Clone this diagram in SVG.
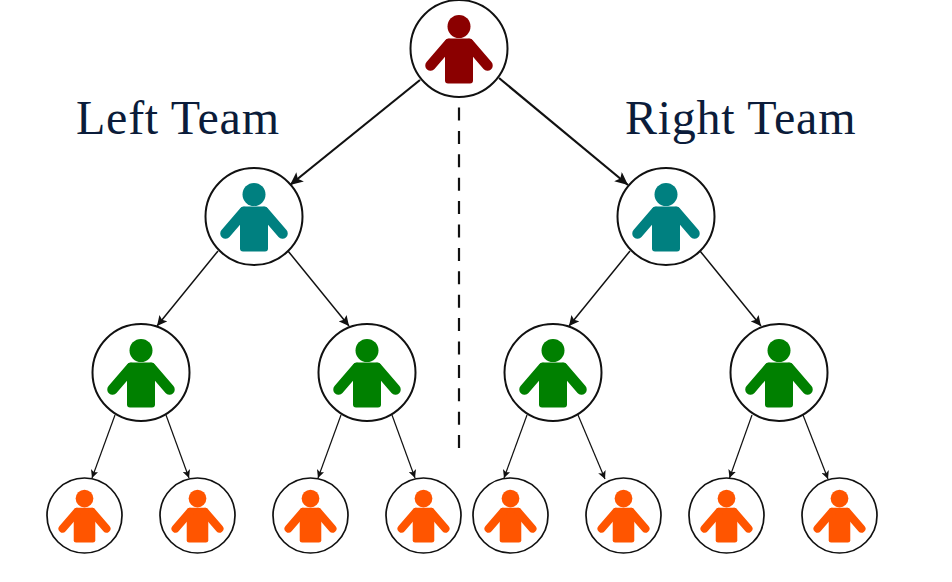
<svg xmlns="http://www.w3.org/2000/svg" width="952" height="582" viewBox="0 0 952 582">
<style>
.c{fill:#fff;stroke:#111;stroke-width:2}
.s{stroke-width:1.7}
.t{font-family:"Liberation Serif",serif;font-size:48px;fill:#0b1c3a;letter-spacing:.75px}
.l{stroke:#111;fill:none}
.a{stroke-width:2.2;marker-end:url(#m1)}
.b{stroke-width:1.5;marker-end:url(#m2)}
.d{stroke-width:1.2;marker-end:url(#m3)}
.red{color:#8b0000}.teal{color:#008080}.green{color:#008000}.orange{color:#ff5500}
</style>
<defs>
<marker id="m1" markerUnits="userSpaceOnUse" markerWidth="14" markerHeight="12" refX="13" refY="6" orient="auto"><path d="M0 0L13 6L0 12L3 6Z" fill="#111"/></marker>
<marker id="m2" markerUnits="userSpaceOnUse" markerWidth="11" markerHeight="10" refX="10" refY="5" orient="auto"><path d="M0 0L10 5L0 10L2 5Z" fill="#111"/></marker>
<marker id="m3" markerUnits="userSpaceOnUse" markerWidth="9" markerHeight="8" refX="8" refY="4" orient="auto"><path d="M0 0L8 4L0 8L2 4Z" fill="#111"/></marker>
<g id="p">
<circle cy="-22" r="11.500" fill="currentColor"/>
<path d="M-14 -6Q-14 -10 -10 -10H10Q14 -10 14 -6V32Q14 35 11 35H-11Q-14 35 -14 32Z" fill="currentColor"/>
<path d="M-10 -4.500L-28.500 17M10 -4.500L28.500 17" stroke="currentColor" stroke-width="10.500" stroke-linecap="round" fill="none"/>
</g>
</defs>
<rect width="952" height="582" fill="#fff"/>
<g id="connectors">
<path class="l a" d="M420 80L290 185"/>
<path class="l a" d="M499 78L628 185"/>
<path class="l b" d="M218 251L157 326"/>
<path class="l b" d="M288 251L349 326"/>
<path class="l b" d="M630 251L569 326"/>
<path class="l b" d="M700 251L761 326"/>
<path class="l d" d="M115 415L92 478"/>
<path class="l d" d="M166 415L189 478"/>
<path class="l d" d="M341 415L318 478"/>
<path class="l d" d="M392 415L415 478"/>
<path class="l d" d="M527 415L504 478"/>
<path class="l d" d="M578 415L605 479"/>
<path class="l d" d="M752 415L729.500 478"/>
<path class="l d" d="M803 415L828 479"/>
<path class="l" stroke-width="2.200" stroke-dasharray="13 10.400" d="M459 107.500V448"/>
</g>
<text class="t" x="76" y="134">Left Team</text>
<text class="t" x="625" y="134">Right Team</text>
<g id="n0" class="red" transform="translate(459 48.500)"><circle class="c" r="48.500"/><use href="#p"/></g>
<g id="n1" class="teal" transform="translate(254 216.500)"><circle class="c" r="48.500"/><use href="#p"/></g>
<g id="n2" class="teal" transform="translate(666 216.500)"><circle class="c" r="48.500"/><use href="#p"/></g>
<g id="n3" class="green" transform="translate(141 372.500)"><circle class="c" r="48.500"/><use href="#p"/></g>
<g id="n4" class="green" transform="translate(367 372.500)"><circle class="c" r="48.500"/><use href="#p"/></g>
<g id="n5" class="green" transform="translate(553 372.500)"><circle class="c" r="48.500"/><use href="#p"/></g>
<g id="n6" class="green" transform="translate(779 372.500)"><circle class="c" r="48.500"/><use href="#p"/></g>
<g id="n7" class="orange" transform="translate(84.500 515.500)"><circle class="c s" r="37.500"/><use href="#p" transform="scale(.77)"/></g>
<g id="n8" class="orange" transform="translate(197.500 515.500)"><circle class="c s" r="37.500"/><use href="#p" transform="scale(.77)"/></g>
<g id="n9" class="orange" transform="translate(310.500 515.500)"><circle class="c s" r="37.500"/><use href="#p" transform="scale(.77)"/></g>
<g id="n10" class="orange" transform="translate(423.500 515.500)"><circle class="c s" r="37.500"/><use href="#p" transform="scale(.77)"/></g>
<g id="n11" class="orange" transform="translate(510.500 515.500)"><circle class="c s" r="37.500"/><use href="#p" transform="scale(.77)"/></g>
<g id="n12" class="orange" transform="translate(623.500 515.500)"><circle class="c s" r="37.500"/><use href="#p" transform="scale(.77)"/></g>
<g id="n13" class="orange" transform="translate(726.500 515.500)"><circle class="c s" r="37.500"/><use href="#p" transform="scale(.77)"/></g>
<g id="n14" class="orange" transform="translate(839.500 515.500)"><circle class="c s" r="37.500"/><use href="#p" transform="scale(.77)"/></g>
</svg>
